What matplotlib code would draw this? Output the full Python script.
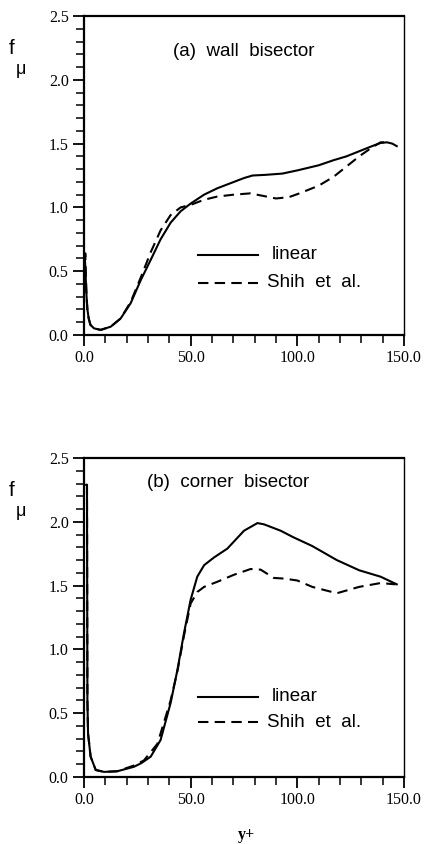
import matplotlib
matplotlib.use("Agg")
import matplotlib.pyplot as plt
from matplotlib.ticker import MultipleLocator, FormatStrFormatter

# (a) wall bisector
wall_x_lin = [0.4, 0.8, 1.2, 1.6, 2.2, 3.0, 4.7, 7.8, 12.5, 17.2, 21.9, 26.6, 31.3, 35.9, 40.6, 45.3, 50.0, 56.3, 62.5, 70.3, 75, 79, 85, 93, 100, 110, 117, 123, 129, 135, 139, 142, 144.5, 146.6]
wall_f_lin = [0.6, 0.45, 0.3, 0.2, 0.13, 0.08, 0.052, 0.04, 0.065, 0.13, 0.25, 0.43, 0.59, 0.75, 0.88, 0.97, 1.03, 1.10, 1.15, 1.20, 1.23, 1.25, 1.255, 1.265, 1.29, 1.33, 1.37, 1.40, 1.44, 1.48, 1.505, 1.51, 1.50, 1.48]
wall_x_shih = [0.3, 0.6, 0.9, 1.2, 1.6, 2.2, 3.0, 4.7, 7.8, 12.5, 17.2, 21.9, 26.6, 31.3, 35.9, 40.6, 45.3, 50.0, 56.3, 62.5, 70.3, 78, 84, 90, 96, 101, 110, 117, 123, 129, 135, 139, 142]
wall_f_shih = [0.35, 0.64, 0.45, 0.3, 0.2, 0.13, 0.08, 0.052, 0.04, 0.065, 0.13, 0.26, 0.45, 0.65, 0.82, 0.94, 1.0, 1.02, 1.06, 1.085, 1.10, 1.11, 1.09, 1.07, 1.08, 1.11, 1.17, 1.24, 1.32, 1.40, 1.47, 1.51, 1.51]

# (b) corner bisector
corner_x_lin = [1.0, 1.4, 1.6, 1.9, 3.1, 5.5, 9.4, 15.6, 23.4, 27, 31.3, 35.9, 40.6, 43.8, 46.9, 50.0, 53.1, 56.3, 60.9, 67.2, 75, 81.3, 84.4, 92.2, 98, 107, 118.5, 129, 139, 146.6]
corner_f_lin = [2.29, 2.29, 0.60, 0.34, 0.16, 0.055, 0.04, 0.045, 0.08, 0.11, 0.16, 0.29, 0.58, 0.84, 1.13, 1.39, 1.57, 1.66, 1.72, 1.79, 1.93, 1.99, 1.98, 1.93, 1.88, 1.81, 1.70, 1.62, 1.57, 1.51]
corner_x_shih = [1.0, 1.4, 1.6, 1.9, 3.1, 5.5, 9.4, 15.6, 23.4, 28.1, 34.4, 40.6, 43.8, 46.9, 50.0, 53.1, 56.3, 62.5, 70.3, 78.1, 82.8, 89, 93.8, 100, 107, 118.5, 129, 139, 146]
corner_f_shih = [2.29, 2.29, 0.60, 0.34, 0.16, 0.055, 0.04, 0.045, 0.09, 0.13, 0.26, 0.6, 0.83, 1.11, 1.36, 1.45, 1.49, 1.53, 1.585, 1.63, 1.625, 1.56, 1.555, 1.54, 1.49, 1.44, 1.49, 1.52, 1.51]

x_ticks = [0.0, 50.0, 100.0, 150.0]
y_ticks = [0.0, 0.5, 1.0, 1.5, 2.0, 2.5]

panels = [
    ("(a)  wall  bisector", wall_x_lin, wall_f_lin, wall_x_shih, wall_f_shih,
     (75, 2.22), (0.63, 0.41)),
    ("(b)  corner  bisector", corner_x_lin, corner_f_lin, corner_x_shih, corner_f_shih,
     (67.5, 2.31), (0.63, 0.43)),
]

fig = plt.figure(figsize=(4.25, 8.44), dpi=100)
boxes = [[84 / 425, 1 - 335 / 844, 320 / 425, 319 / 844],
         [84 / 425, 1 - 777 / 844, 320 / 425, 319 / 844]]

serif = "Liberation Serif"
sans = "Liberation Sans"

for box, (title, xl, yl, xs, ys, tpos, legy) in zip(boxes, panels):
    ax = fig.add_axes(box)
    ax.plot(xl, yl, color="black", lw=1.5, solid_joinstyle="round")
    ax.plot(xs, ys, color="black", lw=1.5, ls=(0, (5, 3)))
    ax.set_xlim(0, 150)
    ax.set_ylim(0, 2.5)
    ax.set_xticks(x_ticks)
    ax.set_yticks(y_ticks)
    ax.xaxis.set_minor_locator(MultipleLocator(10))
    ax.yaxis.set_minor_locator(MultipleLocator(0.1))
    ax.xaxis.set_major_formatter(FormatStrFormatter("%.1f"))
    ax.yaxis.set_major_formatter(FormatStrFormatter("%.1f"))
    ax.tick_params(which="major", direction="out", length=8, width=1.3,
                   labelsize=11.5, pad=3)
    ax.tick_params(which="minor", direction="out", length=5.5, width=1.1)
    for lab in ax.get_xticklabels() + ax.get_yticklabels():
        lab.set_fontfamily(serif)
    for side in ["left", "bottom", "top"]:
        ax.spines[side].set_linewidth(1.6)
    ax.spines["right"].set_linewidth(1.0)

    ax.text(tpos[0], tpos[1], title, ha="center", va="center",
            fontsize=13.5, family=sans)

    # legend drawn by hand inside the axes
    ax.plot([53.5, 81.5], [legy[0], legy[0]], color="black", lw=1.5)
    ax.plot([53.5, 81.5], [legy[1], legy[1]], color="black", lw=1.5, ls=(0, (5, 3)))
    ax.text(88, legy[0], "linear", va="center", fontsize=13.5, family=sans)
    ax.text(86, legy[1], "Shih  et  al.", va="center", fontsize=13.5, family=sans)

# y labels (f with subscript mu)
for top in [49, 491]:
    fig.text(12 / 425, 1 - top / 844, "f", ha="center", va="center",
             fontsize=15, family=sans)
    fig.text(21 / 425, 1 - (top + 20) / 844, "\u03bc", ha="center", va="center",
             fontsize=13, family=sans)

fig.text(246 / 425, 1 - 835 / 844, "y+", ha="center", va="center",
         fontsize=11.5, family=serif, fontweight="bold")

fig.savefig("out.png", dpi=100)
